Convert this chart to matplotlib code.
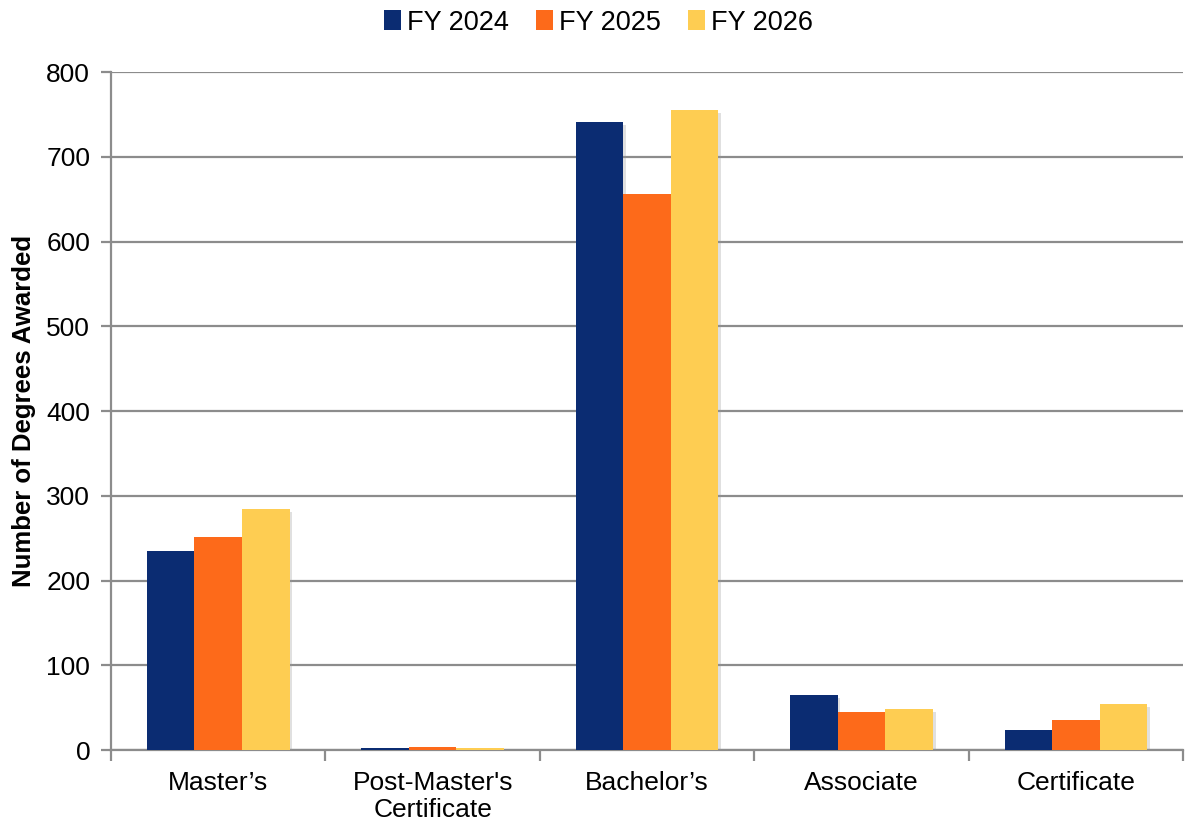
import matplotlib
matplotlib.use("Agg")
import matplotlib.pyplot as plt
import matplotlib.patheffects as pe
import numpy as np

plt.rcParams['font.family'] = ['Liberation Sans', 'DejaVu Sans']

categories = ["Master\u2019s", "Post-Master's\nCertificate", "Bachelor\u2019s", "Associate", "Certificate"]
series_names = ["FY 2024", "FY 2025", "FY 2026"]
fy2024 = [235, 2, 741, 65, 24]
fy2025 = [251, 4, 656, 45, 35]
fy2026 = [284, 2, 755, 48, 54]
series_values = [fy2024, fy2025, fy2026]
colors = ["#0b2c72", "#fd6a1a", "#fecd52"]

fig = plt.figure(figsize=(11.86, 8.26), dpi=100)
ax = fig.add_axes([0.0936, 0.092, 0.904, 0.8208])

x = np.arange(len(categories))
w = 0.222
shadow = [pe.SimplePatchShadow(offset=(2, -2), shadow_rgbFace="#999999", alpha=0.3), pe.Normal()]
for i, (name, vals, c) in enumerate(zip(series_names, series_values, colors)):
    bars = ax.bar(x + (i - 1) * w, vals, width=w, color=c, label=name, zorder=3)
    for b in bars:
        b.set_path_effects(shadow)

grid_c = "#8c8c8c"
ax.set_ylim(0, 800)
ax.set_xlim(-0.5, len(categories) - 0.5)
ax.set_yticks(np.arange(0, 801, 100))
ax.yaxis.grid(True, color=grid_c, linewidth=1.6, zorder=0)
ax.set_axisbelow(True)

ax.set_xticks(x)
ax.set_xticklabels(categories, fontsize=19, linespacing=1.15)
ax.set_xticks(np.arange(-0.5, len(categories), 1.0), minor=True)
ax.tick_params(axis='x', which='major', length=0, pad=15)
ax.tick_params(axis='x', which='minor', length=8, width=1.6, color=grid_c)
ax.tick_params(axis='y', length=7, width=1.6, color=grid_c, labelsize=19, pad=8)

for s in ['top', 'right']:
    ax.spines[s].set_visible(False)
for s in ['left', 'bottom']:
    ax.spines[s].set_color(grid_c)
    ax.spines[s].set_linewidth(1.6)

ax.set_ylabel("Number of Degrees Awarded", fontsize=18.5, fontweight='bold', labelpad=7)

leg = ax.legend(loc='upper center', bbox_to_anchor=(0.455, 1.0 + 73 / 678), ncol=3, frameon=False,
                fontsize=19.5, handlelength=0.6, handleheight=0.75, handletextpad=0.25,
                columnspacing=1.0, borderaxespad=0)
for h in leg.legend_handles:
    h.set_path_effects([])

fig.savefig("out.png", dpi=100)
